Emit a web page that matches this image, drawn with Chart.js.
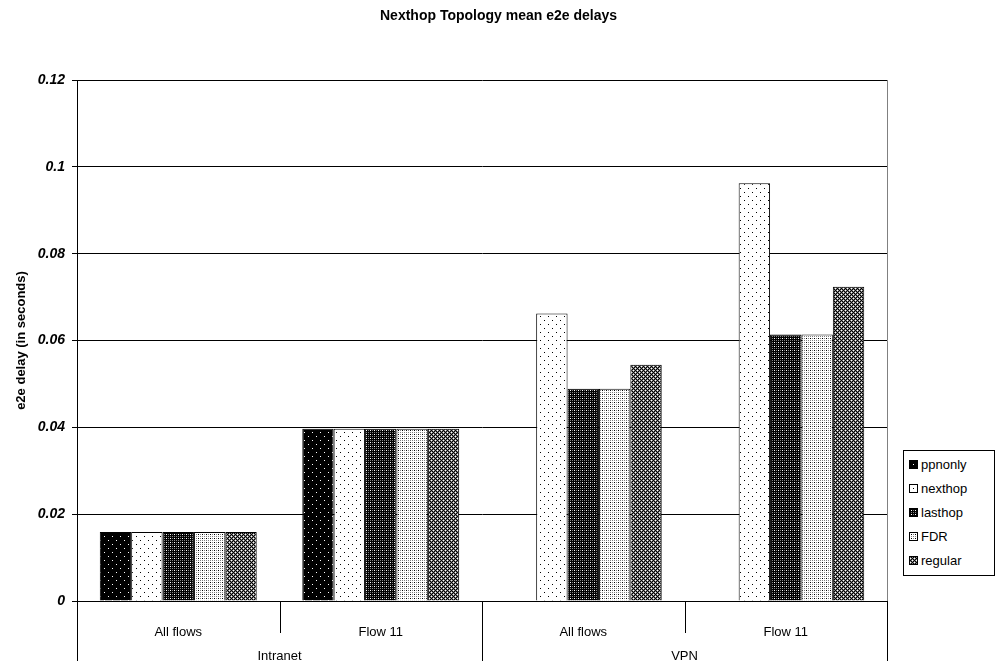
<!DOCTYPE html>
<html>
<head>
<meta charset="utf-8">
<title>Nexthop Topology mean e2e delays</title>
<script src="https://cdn.jsdelivr.net/npm/chart.js@4/dist/chart.umd.min.js"></script>
<style>
  html, body { margin: 0; padding: 0; background: #fff; }
  #wrap { position: relative; width: 997px; height: 661px; }
  #legend {
    position: absolute; left: 903px; top: 450px; width: 90px;
    border: 1px solid #000; background: #fff; padding: 2px 0;
    font: 13px Arial, "Liberation Sans", sans-serif; color: #000;
  }
  #legend div { height: 24px; line-height: 24px; padding-left: 5px; white-space: nowrap; }
  #legend canvas { vertical-align: middle; margin-right: 3px; position: relative; top: -1px; }
</style>
</head>
<body>
<div id="wrap">
  <canvas id="chart" width="997" height="661"></canvas>
  <div id="legend"></div>
</div>
<script>
// categories: inner level, then the outer grouping below it
const categories = ["All flows", "Flow 11", "All flows", "Flow 11"];
const groups = ["Intranet", "VPN"];

// mean end-to-end delay in seconds, one value per category
const seriesNames = ["ppnonly", "nexthop", "lasthop", "FDR", "regular"];
const ppnonly = [0.0159, 0.0397, null, null];
const nexthop = [0.0159, 0.0397, 0.0662, 0.0962];
const lasthop = [0.0159, 0.0397, 0.0489, 0.0614];
const fdr     = [0.0159, 0.0397, 0.0489, 0.0614];
const regular = [0.0159, 0.0397, 0.0544, 0.0724];

const yMin = 0;
const yMax = 0.12;
const yStep = 0.02;

const FONT = 'Arial, "Liberation Sans", sans-serif';

// pixel tiles for the black & white fills (k = black, w = white, g = grey)
const PAL = { k: "#000", w: "#fff", g: "#808080" };
const tiles = [
  ["wkkkkkkk", "kkkkkkkk", "kkkkkkkk", "kkkkkkkk", "kkkkwkkk", "kkkkkkkk", "kkkkkkkk", "kkkkkkkk"],
  ["kwwwwwww", "wwwwwwww", "wwwwwwww", "wwwwwwww", "wwwwkwww", "wwwwwwww", "wwwwwwww", "wwwwwwww"],
  ["gkgk", "kkkk", "gkwk", "kkkk"],
  ["gwgw", "wwww", "gwkw", "wwww"],
  ["gkgw", "kgkg", "gwgk", "kgkg"]
];

function makeTile(rows) {
  const c = document.createElement("canvas");
  c.width = rows[0].length;
  c.height = rows.length;
  const g = c.getContext("2d");
  rows.forEach((r, y) => [...r].forEach((ch, x) => {
    g.fillStyle = PAL[ch];
    g.fillRect(x, y, 1, 1);
  }));
  return c;
}

const ctx = document.getElementById("chart").getContext("2d");
const patterns = tiles.map(t => ctx.createPattern(makeTile(t), "repeat"));
const seriesData = [ppnonly, nexthop, lasthop, fdr, regular];

// vertical separators under the x axis: short ones between categories,
// full-height ones at group edges
const dividers = {
  id: "dividers",
  afterDraw(chart) {
    const x = chart.scales.x;
    const area = chart.chartArea;
    const c = chart.ctx;
    const n = categories.length;
    const per = n / groups.length;
    const step = x.getPixelForValue(1) - x.getPixelForValue(0);
    const start = x.getPixelForValue(0) - step / 2;
    c.save();
    c.lineWidth = 1;
    for (let i = 0; i <= n; i++) {
      const px = Math.round(start + i * step) + 0.5;
      const edge = i % per === 0;
      c.strokeStyle = "#000";
      c.beginPath();
      c.moveTo(px, area.bottom);
      c.lineTo(px, edge ? chart.height : area.bottom + 32);
      c.stroke();
      if (i === n) {
        c.strokeStyle = "#808080";
        c.beginPath();
        c.moveTo(px, area.top);
        c.lineTo(px, area.bottom);
        c.stroke();
      }
    }
    c.restore();
  }
};

new Chart(ctx, {
  type: "bar",
  data: {
    labels: categories,
    datasets: seriesNames.map((name, i) => ({
      label: name,
      data: seriesData[i],
      backgroundColor: patterns[i],
      borderColor: "#000",
      borderWidth: 1,
      categoryPercentage: 0.775,
      barPercentage: 1
    }))
  },
  options: {
    responsive: false,
    animation: false,
    plugins: {
      legend: { display: false },
      tooltip: { enabled: false },
      title: {
        display: true,
        text: "Nexthop Topology mean e2e delays",
        color: "#000",
        font: { family: FONT, size: 14, weight: "bold" },
        padding: { top: 7.6, bottom: 55.6 }
      }
    },
    scales: {
      x: {
        grid: { display: false, drawTicks: false },
        border: { display: true, color: "#000", width: 1 },
        ticks: {
          color: "#000", padding: 24, maxRotation: 0, autoSkip: false,
          font: { family: FONT, size: 13 }
        },
        afterFit(s) { s.height = 40; }
      },
      x2: {
        type: "category",
        labels: groups,
        position: "bottom",
        offset: true,
        grid: { display: false, drawTicks: false },
        border: { display: false },
        ticks: {
          color: "#000", padding: 8, maxRotation: 0, autoSkip: false,
          font: { family: FONT, size: 13 }
        },
        afterFit(s) { s.height = 20; }
      },
      y: {
        min: yMin,
        max: yMax,
        ticks: {
          stepSize: yStep,
          padding: 7,
          color: "#000",
          font: { family: FONT, size: 14, weight: "bold", style: "italic" },
          callback: v => String(+v.toFixed(2))
        },
        grid: { color: "#000", lineWidth: 1, tickLength: 5 },
        border: { color: "#000", width: 1 },
        title: {
          display: true,
          text: "e2e delay (in seconds)",
          color: "#000",
          font: { family: FONT, size: 13, weight: "bold" },
          padding: { top: 14, bottom: 0 }
        },
        afterFit(s) { s.width = 77; }
      },
      // empty right-hand axis that keeps room for the legend box
      yLegend: {
        position: "right",
        ticks: { display: false },
        grid: { display: false, drawTicks: false },
        border: { display: false },
        afterFit(s) { s.width = 110; }
      }
    }
  },
  plugins: [dividers]
});

// legend with the same fills as the bars
const legend = document.getElementById("legend");
seriesNames.forEach((name, i) => {
  const row = document.createElement("div");
  const sw = document.createElement("canvas");
  sw.width = 9;
  sw.height = 9;
  const g = sw.getContext("2d");
  g.fillStyle = g.createPattern(makeTile(tiles[i]), "repeat");
  g.fillRect(0, 0, 9, 9);
  g.strokeStyle = "#000";
  g.strokeRect(0.5, 0.5, 8, 8);
  row.appendChild(sw);
  row.appendChild(document.createTextNode(name));
  legend.appendChild(row);
});
</script>
</body>
</html>
